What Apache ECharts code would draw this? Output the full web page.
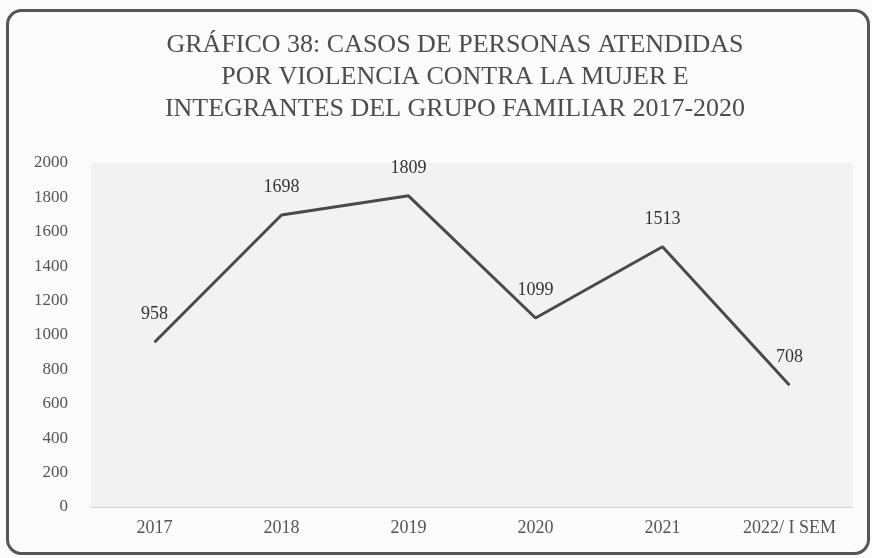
<!DOCTYPE html>
<html>
<head>
<meta charset="utf-8">
<script src="https://cdn.jsdelivr.net/npm/echarts@6/dist/echarts.min.js"></script>
<style>
  html, body { margin: 0; padding: 0; background: #fbfbfb; }
  #main { width: 872px; height: 558px; }
</style>
</head>
<body>
<div id="main"></div>
<script>
// datos
var anios = ['2017', '2018', '2019', '2020', '2021', '2022/ I SEM'];
var casos = [958, 1698, 1809, 1099, 1513, 708];
var ticksY = [0, 200, 400, 600, 800, 1000, 1200, 1400, 1600, 1800, 2000];

var serif = 'Liberation Serif, DejaVu Serif, serif';

var myChart = echarts.init(document.getElementById('main'));
myChart.setOption({
    backgroundColor: '#fbfbfb',
    animation: false,
    title: {
        text: 'GRÁFICO 38: CASOS DE PERSONAS ATENDIDAS\nPOR VIOLENCIA CONTRA LA MUJER E\nINTEGRANTES DEL GRUPO FAMILIAR 2017-2020',
        left: 450,
        top: 24,
        textAlign: 'center',
        textStyle: {
            fontFamily: serif,
            fontSize: 26,
            fontWeight: 'normal',
            color: '#4d4d4d',
            lineHeight: 32
        }
    },
    // marco redondeado del recuadro
    graphic: [{
        type: 'rect',
        left: 5,
        top: 8,
        shape: { width: 861, height: 543, r: 14 },
        style: { fill: 'none', stroke: '#555', lineWidth: 3 },
        silent: true
    }],
    grid: {
        left: 91,
        right: 19,
        top: 163,
        bottom: 51,
        show: true,
        backgroundColor: '#f2f2f2',
        borderWidth: 0
    },
    xAxis: {
        type: 'category',
        data: anios,
        boundaryGap: true,
        axisLine: { lineStyle: { color: '#c8c8c8', type: 'dotted', width: 1 } },
        axisTick: { show: false },
        axisLabel: {
            margin: 12,
            fontFamily: serif,
            fontSize: 18,
            color: '#555'
        }
    },
    yAxis: {
        type: 'value',
        min: ticksY[0],
        max: ticksY[ticksY.length - 1],
        interval: 200,
        axisLine: { show: false },
        axisTick: { show: false },
        splitLine: { show: false },
        axisLabel: {
            margin: 23,
            fontFamily: serif,
            fontSize: 17,
            color: '#555',
            formatter: function (v) { return String(v); }
        }
    },
    series: [{
        type: 'line',
        data: casos,
        symbol: 'circle',
        symbolSize: 1,
        showSymbol: true,
        itemStyle: { color: 'rgba(0,0,0,0)' },
        lineStyle: { color: '#4a4a4a', width: 3 },
        label: {
            show: true,
            position: 'top',
            distance: 18,
            fontFamily: serif,
            fontSize: 18,
            color: '#333'
        }
    }]
});
</script>
</body>
</html>
